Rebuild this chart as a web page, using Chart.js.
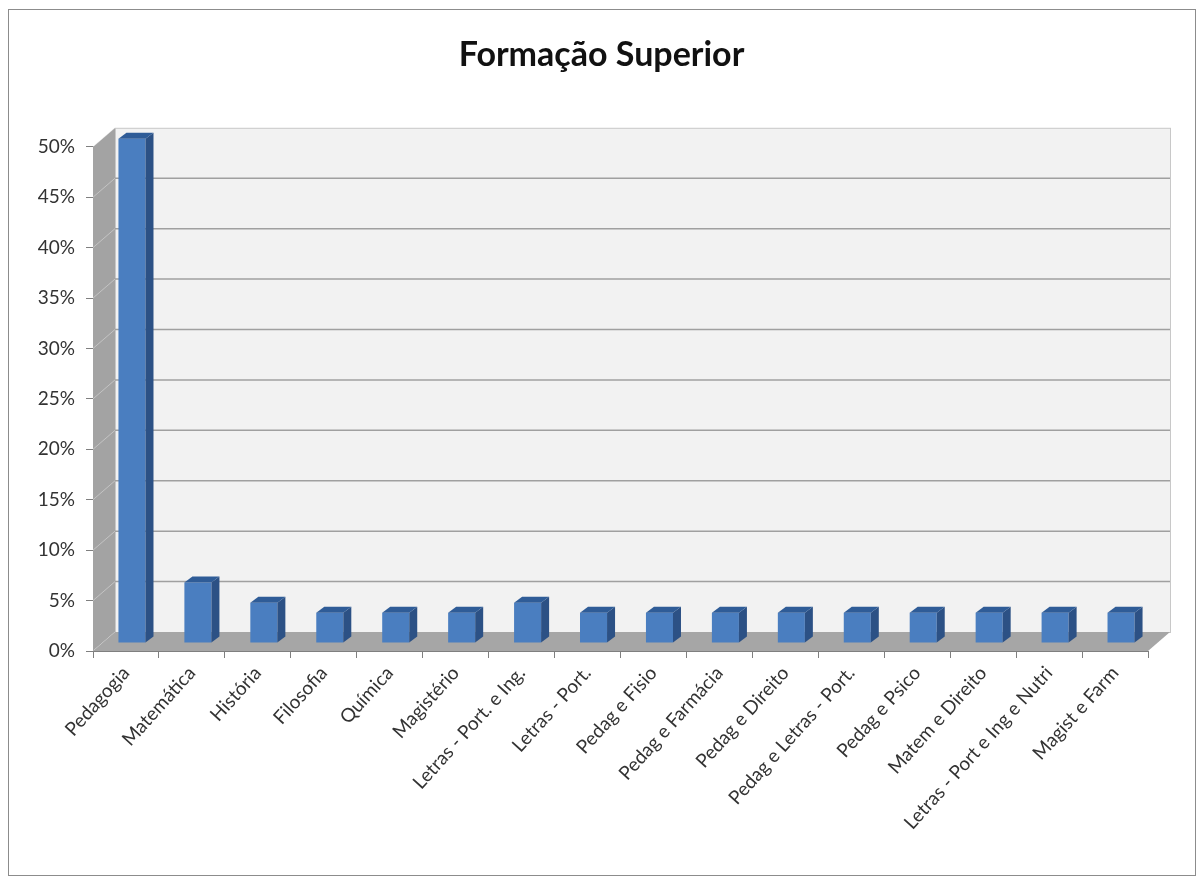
<!DOCTYPE html>
<html>
<head>
<meta charset="utf-8">
<title>Formação Superior</title>
<script src="https://cdn.jsdelivr.net/npm/chart.js@4/dist/chart.umd.min.js"></script>
<style>
  body { margin: 0; background: #fff; }
  #wrap { position: relative; width: 1203px; height: 880px; }
  #frame { position: absolute; left: 8px; top: 9px; width: 1188px; height: 867px; border: 1px solid #8c8c8c; box-sizing: border-box; pointer-events: none; }
  canvas { position: absolute; left: 0; top: 0; }
</style>
</head>
<body>
<div id="wrap">
  <canvas id="chart" width="1203" height="880"></canvas>
  <div id="frame"></div>
</div>
<script>
// categories and values (percent)
const categories = [
  "Pedagogia", "Matemática", "História", "Filosofia", "Química", "Magistério",
  "Letras - Port. e Ing.", "Letras - Port.", "Pedag e Fisio", "Pedag e Farmácia",
  "Pedag e Direito", "Pedag e Letras - Port.", "Pedag e Psico", "Matem e Direito",
  "Letras - Port e Ing e Nutri", "Magist e Farm"
];
const percentages = [50, 6, 4, 3, 3, 3, 4, 3, 3, 3, 3, 3, 3, 3, 3, 3];
const yTicks = [0, 5, 10, 15, 20, 25, 30, 35, 40, 45, 50];

// depth of the fake 3D box and of each bar
const WALL_DX = 22, WALL_DY = 19;
const BAR_SHIFT_X = 6, BAR_SHIFT_Y = 8;
const BAR_DX = 8, BAR_DY = 6;

const box3d = {
  id: "box3d",
  beforeDatasetsDraw(chart) {
    const { ctx, chartArea: a, scales } = chart;
    const y = scales.y;
    ctx.save();
    // back wall
    ctx.fillStyle = "#f2f2f2";
    ctx.fillRect(a.left + WALL_DX, a.top - WALL_DY, a.right - a.left, a.bottom - a.top);
    ctx.strokeStyle = "#c8c8c8";
    ctx.lineWidth = 1;
    ctx.strokeRect(a.left + WALL_DX + 0.5, a.top - WALL_DY + 0.5, a.right - a.left, a.bottom - a.top);
    // side wall
    ctx.fillStyle = "#a3a3a3";
    ctx.beginPath();
    ctx.moveTo(a.left, a.top);
    ctx.lineTo(a.left + WALL_DX, a.top - WALL_DY);
    ctx.lineTo(a.left + WALL_DX, a.bottom - WALL_DY);
    ctx.lineTo(a.left, a.bottom);
    ctx.closePath();
    ctx.fill();
    // gridlines
    yTicks.forEach((v) => {
      const py = y.getPixelForValue(v);
      if (v > 0 && v < 50) {
        ctx.strokeStyle = "#a0a0a0";
        ctx.lineWidth = 1.5;
        ctx.beginPath();
        ctx.moveTo(a.left + WALL_DX, py - WALL_DY);
        ctx.lineTo(a.right + WALL_DX, py - WALL_DY);
        ctx.stroke();
      }
      ctx.strokeStyle = "rgba(255,255,255,0.35)";
      ctx.lineWidth = 1;
      ctx.beginPath();
      ctx.moveTo(a.left, py);
      ctx.lineTo(a.left + WALL_DX, py - WALL_DY);
      ctx.stroke();
    });
    // floor
    ctx.fillStyle = "#a6a6a6";
    ctx.beginPath();
    ctx.moveTo(a.left, a.bottom);
    ctx.lineTo(a.right, a.bottom);
    ctx.lineTo(a.right + WALL_DX, a.bottom - WALL_DY);
    ctx.lineTo(a.left + WALL_DX, a.bottom - WALL_DY);
    ctx.closePath();
    ctx.fill();
    ctx.restore();

    // bars stand a little inside the floor
    ctx.save();
    ctx.translate(BAR_SHIFT_X, -BAR_SHIFT_Y);
  },
  afterDatasetsDraw(chart) {
    const { ctx } = chart;
    chart.getDatasetMeta(0).data.forEach((bar) => {
      const l = bar.x - bar.width / 2, r = bar.x + bar.width / 2;
      const t = bar.y, b = bar.base;
      // right side
      ctx.fillStyle = "#2c5185";
      ctx.beginPath();
      ctx.moveTo(r, t);
      ctx.lineTo(r + BAR_DX, t - BAR_DY);
      ctx.lineTo(r + BAR_DX, b - BAR_DY);
      ctx.lineTo(r, b);
      ctx.closePath();
      ctx.fill();
      // top
      ctx.fillStyle = "#2f5c97";
      ctx.beginPath();
      ctx.moveTo(l, t);
      ctx.lineTo(l + BAR_DX, t - BAR_DY);
      ctx.lineTo(r + BAR_DX, t - BAR_DY);
      ctx.lineTo(r, t);
      ctx.closePath();
      ctx.fill();
    });
    ctx.restore();
  }
};

const fontFamily = "Lato, 'Open Sans', sans-serif";

new Chart(document.getElementById("chart"), {
  type: "bar",
  data: {
    labels: categories,
    datasets: [{
      data: percentages,
      backgroundColor: "#4a7ec0",
      borderWidth: 0,
      categoryPercentage: 1,
      barPercentage: 0.41,
      clip: false
    }]
  },
  options: {
    responsive: false,
    animation: false,
    layout: { padding: 0 },
    plugins: {
      legend: { display: false },
      tooltip: { enabled: false },
      title: {
        display: true,
        text: "Formação Superior",
        color: "#111",
        font: { family: fontFamily, size: 34, weight: "bold" },
        padding: { top: 35, bottom: 71 }
      }
    },
    scales: {
      y: {
        min: 0,
        max: 50,
        afterFit: (s) => { s.width = 93; },
        afterBuildTicks: (s) => { s.ticks = yTicks.map((v) => ({ value: v })); },
        ticks: {
          callback: (v) => v + "%",
          color: "#333",
          padding: 11,
          font: { family: fontFamily, size: 19 }
        },
        grid: { drawOnChartArea: false, drawTicks: true, tickLength: 7, color: "#7f7f7f" },
        border: { display: true, color: "#7f7f7f" }
      },
      // empty right-hand axis, only reserves the space beside the 3D box
      yRight: {
        position: "right",
        min: 0,
        max: 50,
        afterFit: (s) => { s.width = 55; },
        ticks: { display: false },
        grid: { display: false },
        border: { display: false }
      },
      x: {
        afterFit: (s) => { s.height = 229; },
        ticks: {
          maxRotation: 48,
          minRotation: 48,
          color: "#333",
          padding: 4,
          font: { family: fontFamily, size: 19 }
        },
        grid: { drawOnChartArea: false, drawTicks: true, tickLength: 7, color: "#7f7f7f", offset: true },
        border: { display: true, color: "#7f7f7f" }
      }
    }
  },
  plugins: [box3d]
});
</script>
</body>
</html>
